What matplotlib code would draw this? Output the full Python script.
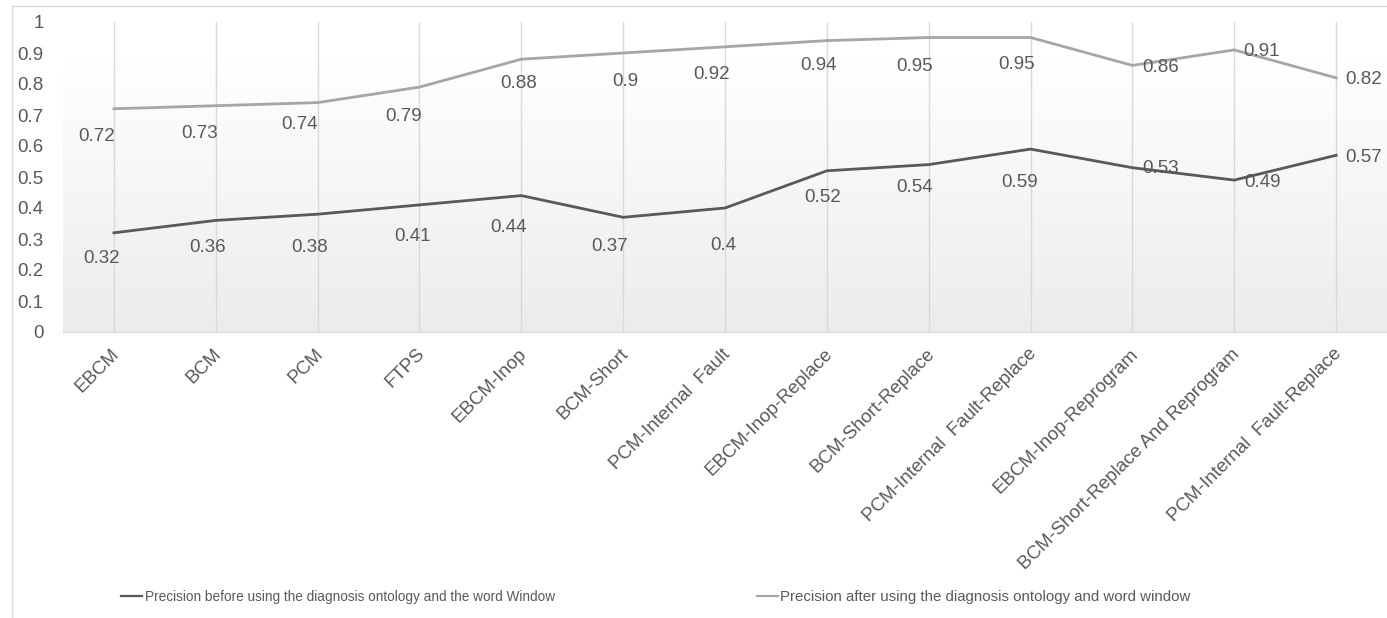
import matplotlib.pyplot as plt
import matplotlib.transforms as mtransforms
import numpy as np
from matplotlib.patches import Rectangle

plt.rcParams['font.family'] = ['Liberation Sans', 'DejaVu Sans']

categories = ['EBCM', 'BCM', 'PCM', 'FTPS', 'EBCM-Inop', 'BCM-Short',
              'PCM-Internal  Fault', 'EBCM-Inop-Replace', 'BCM-Short-Replace',
              'PCM-Internal  Fault-Replace', 'EBCM-Inop-Reprogram',
              'BCM-Short-Replace And Reprogram', 'PCM-Internal  Fault-Replace']
before = [0.32, 0.36, 0.38, 0.41, 0.44, 0.37, 0.4, 0.52, 0.54, 0.59, 0.53, 0.49, 0.57]
after = [0.72, 0.73, 0.74, 0.79, 0.88, 0.9, 0.92, 0.94, 0.95, 0.95, 0.86, 0.91, 0.82]

label_before = 'Precision before using the diagnosis ontology and the word Window'
label_after = 'Precision after using the diagnosis ontology and word window'

# label offsets in pixels (dx, dy), dy positive = downward
off_before = [(-12, 26), (-8, 27), (-8, 33), (-7, 32), (-13, 32), (-14, 29), (-2, 37),
              (-4, 27), (-14, 23), (-11, 33), (28, 1), (28, 2), (28, 2)]
off_after = [(-17, 28), (-16, 28), (-18, 22), (-16, 29), (-3, 24), (2, 28), (-13, 28),
             (-8, 25), (-14, 29), (-14, 27), (28, 2), (27, 2), (28, 2)]

text_c = '#595959'
dark = '#595959'
light = '#a6a6a6'
grid_c = '#d9d9d9'
fs = 13.5

fig = plt.figure(figsize=(13.87, 6.18), dpi=100)
W, H = 1387, 618
ax = fig.add_axes([63 / W, (H - 332) / H, (1387 - 63) / W, 310 / H])

x = np.arange(len(categories))
n = len(categories)

# plot area shading: light gray at the bottom fading to white near the top
g = np.linspace(0, 1, 256).reshape(-1, 1)
shade = 0.925 + 0.075 * np.clip(g / 0.88, 0, 1)
img = np.dstack([shade, shade, shade])
ax.imshow(img, extent=[-0.5, n - 0.5, 0, 1], aspect='auto', origin='lower', zorder=0)
ax.set_xlim(-0.5, n - 0.5)
ax.set_ylim(0, 1)

for xi in x:
    ax.axvline(xi, color=grid_c, lw=1, zorder=1)

ax.plot(x, before, color=dark, lw=2, label=label_before, zorder=3)
ax.plot(x, after, color=light, lw=2, label=label_after, zorder=3)

for xi, v, (dx, dy) in zip(x, before, off_before):
    ax.annotate(f'{v:g}', (xi, v), xytext=(dx * 0.72, -dy * 0.72), textcoords='offset points',
                ha='center', va='center', fontsize=fs, color=text_c, zorder=4)
for xi, v, (dx, dy) in zip(x, after, off_after):
    ax.annotate(f'{v:g}', (xi, v), xytext=(dx * 0.72, -dy * 0.72), textcoords='offset points',
                ha='center', va='center', fontsize=fs, color=text_c, zorder=4)

for side in ['top', 'right', 'left']:
    ax.spines[side].set_visible(False)
ax.spines['bottom'].set_color(grid_c)

yt = np.round(np.arange(0, 1.01, 0.1), 1)
ax.set_yticks(yt)
ax.set_yticklabels([f'{t:g}' for t in yt])
ax.tick_params(axis='y', length=0, pad=14, labelsize=fs, labelcolor=text_c)
ax.set_xticks(x)
ax.set_xticklabels(categories, rotation=45, ha='right', va='center',
                   rotation_mode='anchor')
ax.tick_params(axis='x', length=0, pad=14, labelsize=fs, labelcolor=text_c)
shift = mtransforms.ScaledTranslation(3 / 100, 0, fig.dpi_scale_trans)
for lbl in ax.get_xticklabels():
    lbl.set_transform(lbl.get_transform() + shift)

# outer chart border
fig.patches.append(Rectangle((12 / W, -0.1), 1.2, 1 - 6 / H + 0.1, transform=fig.transFigure,
                             fill=False, edgecolor=grid_c, lw=1))

leg = fig.legend(loc='center', bbox_to_anchor=(656 / W, (H - 597) / H), ncol=2, frameon=False,
                 fontsize=9.8, labelcolor=text_c,
                 handlelength=1.55, handletextpad=0.2, columnspacing=14.8)
leg.get_texts()[1].set_fontsize(10.8)
for line in leg.get_lines():
    line.set_linewidth(1.6)

fig.savefig('out.png', dpi=100)
